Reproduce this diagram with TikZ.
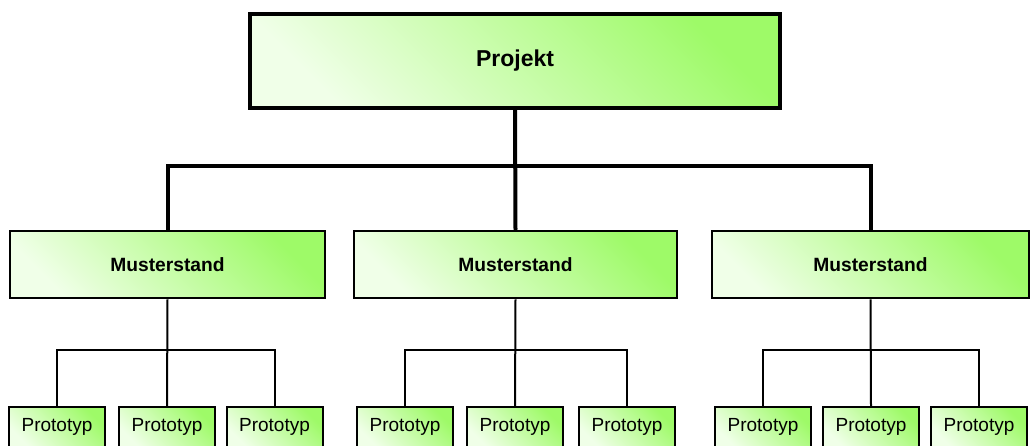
\documentclass[tikz,border=0pt]{standalone}
\usepackage{fontspec}
\setmainfont{Liberation Sans}
\definecolor{gLight}{RGB}{240,255,232}
\definecolor{gDark}{RGB}{158,250,104}
\tikzset{
  boxbase/.style={draw=black, rectangle, inner sep=0pt, top color=gLight, bottom color=gDark, shading angle=135},
  topbox/.style={boxbase, line width=3.5pt, minimum width=530pt, minimum height=94pt, font=\fontsize{23}{27}\selectfont\bfseries},
  midbox/.style={boxbase, line width=2.5pt, minimum height=67pt, font=\fontsize{19.2}{23}\selectfont\bfseries},
  protobox/.style={boxbase, line width=2pt, minimum width=96pt, minimum height=40pt, font=\fontsize{19}{23}\selectfont},
  trunk/.style={line width=4pt},
  branch/.style={line width=2pt}
}
\begin{document}
\begin{tikzpicture}[x=1pt,y=-1pt]
\useasboundingbox (0,0) rectangle (1031,445);
\clip (0,0) rectangle (1031,445);
% nodes
\node[topbox] (P) at (515,61) {Projekt};
\node[midbox, minimum width=315pt] (M1) at (167.5,264.5) {Musterstand};
\node[midbox, minimum width=323pt] (M2) at (515.5,264.5) {Musterstand};
\node[midbox, minimum width=317pt] (M3) at (870.5,264.5) {Musterstand};
\node[protobox] (A1) at (57,427) {Prototyp};
\node[protobox] (B1) at (167,427) {Prototyp};
\node[protobox] (C1) at (274.5,427) {Prototyp};
\node[protobox] (A2) at (405,427) {Prototyp};
\node[protobox] (B2) at (515,427) {Prototyp};
\node[protobox] (C2) at (627,427) {Prototyp};
\node[protobox] (A3) at (763,427) {Prototyp};
\node[protobox] (B3) at (871,427) {Prototyp};
\node[protobox] (C3) at (979,427) {Prototyp};
% junctions
\coordinate (j0) at (515,166);
\coordinate (j1) at (167,350);
\coordinate (j2) at (515,350);
\coordinate (j3) at (871,350);
% connectors
\draw[trunk] (P.south) -- (M2.north);
\draw[trunk] (M1.north) |- (j0) -| (M3.north);
\draw[branch] (M1.south) -- (B1.north);
\draw[branch] (A1.north) |- (j1) -| (C1.north);
\draw[branch] (M2.south) -- (B2.north);
\draw[branch] (A2.north) |- (j2) -| (C2.north);
\draw[branch] (M3.south) -- (B3.north);
\draw[branch] (A3.north) |- (j3) -| (C3.north);
\end{tikzpicture}
\end{document}
